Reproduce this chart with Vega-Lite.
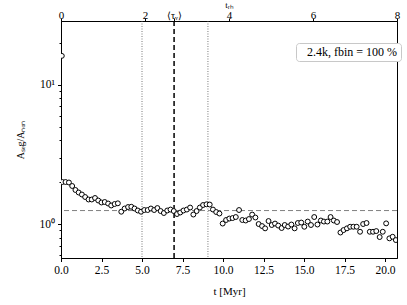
{
  "$schema": "https://vega.github.io/schema/vega-lite/v6.json",
  "width": 336,
  "height": 237,
  "autosize": {"type": "none"},
  "padding": {"left": 61, "top": 21, "right": 10, "bottom": 47},
  "config": {
    "view": {"stroke": "black", "strokeWidth": 1},
    "font": "Liberation Serif",
    "axis": {
      "grid": false,
      "domainColor": "black",
      "tickColor": "black",
      "labelColor": "black",
      "titleColor": "black",
      "labelFont": "Liberation Serif",
      "titleFont": "Liberation Serif",
      "labelFontSize": 11.5,
      "titleFontSize": 11,
      "titleFontWeight": "normal",
      "labelFlush": false,
      "labelOverlap": false
    }
  },
  "layer": [
    {
      "layer": [
        {
          "data": {"values": [{"r": 1.25}]},
          "mark": {"type": "rule", "color": "#808080", "strokeDash": [5, 3], "strokeWidth": 1},
          "encoding": {"y": {"field": "r", "type": "quantitative"}}
        },
        {
          "data": {"values": [{"t": 5.0}, {"t": 9.07}]},
          "mark": {"type": "rule", "color": "#555555", "strokeDash": [1, 1.5], "strokeWidth": 0.8},
          "encoding": {"x": {"field": "t", "type": "quantitative"}}
        },
        {
          "data": {"values": [{"t": 6.98}]},
          "mark": {"type": "rule", "color": "black", "strokeDash": [5, 3], "strokeWidth": 1.5},
          "encoding": {"x": {"field": "t", "type": "quantitative"}}
        },
        {
          "data": {
            "values": [
              {"t": 0.05, "r": 16.17},
              {"t": 0.08, "r": 2.005}, {"t": 0.28, "r": 2.005}, {"t": 0.49, "r": 1.989}, {"t": 0.69, "r": 1.877},
              {"t": 0.89, "r": 1.757}, {"t": 1.09, "r": 1.685}, {"t": 1.29, "r": 1.63}, {"t": 1.49, "r": 1.564},
              {"t": 1.7, "r": 1.501}, {"t": 1.9, "r": 1.501}, {"t": 2.1, "r": 1.539}, {"t": 2.3, "r": 1.476},
              {"t": 2.5, "r": 1.428}, {"t": 2.7, "r": 1.44}, {"t": 2.91, "r": 1.404}, {"t": 3.1, "r": 1.359},
              {"t": 3.31, "r": 1.393}, {"t": 3.51, "r": 1.409}, {"t": 3.72, "r": 1.226}, {"t": 3.93, "r": 1.293},
              {"t": 4.14, "r": 1.325}, {"t": 4.34, "r": 1.331}, {"t": 4.54, "r": 1.293}, {"t": 4.74, "r": 1.251},
              {"t": 4.94, "r": 1.226}, {"t": 5.14, "r": 1.261}, {"t": 5.35, "r": 1.261}, {"t": 5.55, "r": 1.293},
              {"t": 5.75, "r": 1.261}, {"t": 5.95, "r": 1.303}, {"t": 6.15, "r": 1.24}, {"t": 6.35, "r": 1.2},
              {"t": 6.56, "r": 1.251}, {"t": 6.76, "r": 1.271}, {"t": 6.96, "r": 1.24}, {"t": 7.16, "r": 1.18},
              {"t": 7.36, "r": 1.21}, {"t": 7.56, "r": 1.251}, {"t": 7.77, "r": 1.271}, {"t": 7.97, "r": 1.314},
              {"t": 8.17, "r": 1.17}, {"t": 8.37, "r": 1.24}, {"t": 8.57, "r": 1.314}, {"t": 8.77, "r": 1.37},
              {"t": 8.98, "r": 1.386}, {"t": 9.18, "r": 1.381}, {"t": 9.38, "r": 1.271}, {"t": 9.58, "r": 1.22},
              {"t": 9.78, "r": 1.19}, {"t": 9.98, "r": 1.008}, {"t": 10.19, "r": 1.069}, {"t": 10.39, "r": 1.095},
              {"t": 10.59, "r": 1.104}, {"t": 10.79, "r": 1.123}, {"t": 10.99, "r": 1.261}, {"t": 11.19, "r": 1.069},
              {"t": 11.4, "r": 1.06}, {"t": 11.6, "r": 1.086}, {"t": 11.8, "r": 1.17}, {"t": 12.0, "r": 1.114},
              {"t": 12.2, "r": 1.0}, {"t": 12.41, "r": 0.967}, {"t": 12.6, "r": 0.931}, {"t": 12.81, "r": 1.051},
              {"t": 13.01, "r": 0.984}, {"t": 13.21, "r": 1.008}, {"t": 13.41, "r": 0.975}, {"t": 13.62, "r": 0.936},
              {"t": 13.81, "r": 0.984}, {"t": 14.02, "r": 0.959}, {"t": 14.22, "r": 0.992}, {"t": 14.42, "r": 0.931},
              {"t": 14.62, "r": 1.017}, {"t": 14.83, "r": 1.025}, {"t": 15.02, "r": 0.956}, {"t": 15.23, "r": 1.042},
              {"t": 15.43, "r": 0.984}, {"t": 15.63, "r": 1.123}, {"t": 15.83, "r": 0.992}, {"t": 16.04, "r": 1.06},
              {"t": 16.23, "r": 1.042}, {"t": 16.44, "r": 1.042}, {"t": 16.64, "r": 1.123}, {"t": 16.84, "r": 1.06},
              {"t": 17.04, "r": 1.034}, {"t": 17.25, "r": 0.869}, {"t": 17.44, "r": 0.905}, {"t": 17.65, "r": 0.931},
              {"t": 17.85, "r": 0.956}, {"t": 18.05, "r": 0.956}, {"t": 18.25, "r": 0.956}, {"t": 18.46, "r": 0.88},
              {"t": 18.65, "r": 1.0}, {"t": 18.86, "r": 1.017}, {"t": 19.06, "r": 0.88}, {"t": 19.26, "r": 0.88},
              {"t": 19.46, "r": 0.89}, {"t": 19.67, "r": 0.806}, {"t": 19.86, "r": 0.88}, {"t": 20.07, "r": 1.011},
              {"t": 20.27, "r": 0.789}, {"t": 20.47, "r": 0.81}, {"t": 20.67, "r": 0.767}
            ]
          },
          "mark": {"type": "point", "shape": "circle", "fill": "white", "fillOpacity": 1, "filled": false, "size": 24, "strokeWidth": 1, "clip": true},
          "encoding": {
            "x": {
              "field": "t",
              "type": "quantitative",
              "scale": {"domain": [0, 20.74], "nice": false, "zero": false},
              "axis": {
                "title": "t [Myr]",
                "values": [0, 2.5, 5, 7.5, 10, 12.5, 15, 17.5, 20],
                "format": ".1f",
                "tickSize": 3.5,
                "labelPadding": 3,
                "titlePadding": 9
              }
            },
            "y": {
              "field": "r",
              "type": "quantitative",
              "scale": {"type": "log", "domain": [0.57, 28.8], "nice": false},
              "axis": {
                "title": "Aₛₑg/Aₙₒₙ",
                "titleFontSize": 10,
                "values": [0.6, 0.7, 0.8, 0.9, 1, 2, 3, 4, 5, 6, 7, 8, 9, 10, 20],
                "labelExpr": "datum.value == 1 ? '10⁰' : (datum.value == 10 ? '10¹' : '')",
                "tickSize": {"condition": {"test": "datum.value == 1 || datum.value == 10", "value": 3.5}, "value": 2},
                "labelPadding": 3,
                "titlePadding": 14
              }
            },
            "stroke": {
              "datum": "2.4k, fbin = 100 %",
              "type": "nominal",
              "scale": {"range": ["black"]},
              "legend": {
                "title": null,
                "orient": "none",
                "legendX": 235,
                "legendY": 22,
                "symbolOpacity": 0,
                "symbolSize": 0,
                "symbolStrokeWidth": 0,
                "labelOffset": -4,
                "labelFont": "Liberation Serif",
                "labelFontSize": 12,
                "labelColor": "black",
                "labelLimit": 200,
                "padding": 3,
                "strokeColor": "#c8c8c8",
                "fillColor": "white",
                "cornerRadius": 3
              }
            }
          }
        }
      ]
    },
    {
      "data": {"values": [{"trh": 0}, {"trh": 8}]},
      "mark": {"type": "point", "opacity": 0},
      "encoding": {
        "x": {
          "field": "trh",
          "type": "quantitative",
          "scale": {"domain": [0, 8], "nice": false, "zero": false},
          "axis": {
            "orient": "top",
            "title": "tᵣₕ",
            "titleFontSize": 9,
            "titleColor": "black",
            "labelColor": "black",
            "titleY": -14,
            "titleBaseline": "alphabetic",
            "values": [0, 2, 2.69, 4, 6, 8],
            "labelExpr": "datum.value > 2.6 && datum.value < 2.8 ? '⟨τᵥ⟩' : format(datum.value, 'd')",
            "labelFontSize": {"condition": {"test": "datum.value > 2.6 && datum.value < 2.8", "value": 10}, "value": 11},
            "tickSize": 3,
            "labelPadding": -2,
            "titlePadding": 0
          }
        }
      }
    }
  ],
  "resolve": {"scale": {"x": "independent"}}
}
